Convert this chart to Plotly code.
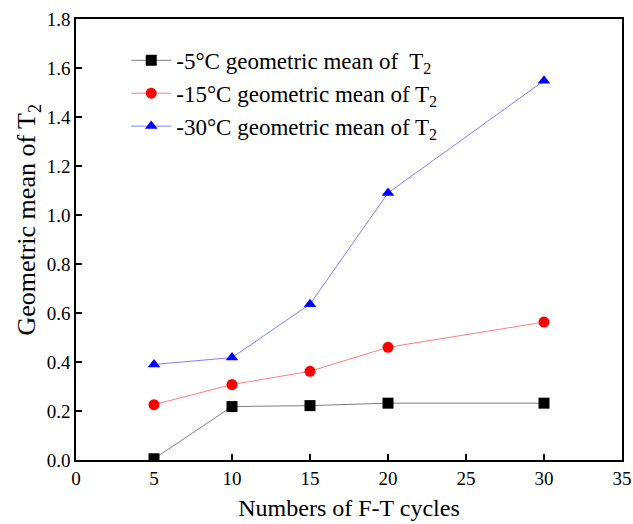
import plotly.graph_objects as go

cycles = [5, 10, 15, 20, 30]
t2_minus5 = [0.005, 0.218, 0.222, 0.232, 0.232]
t2_minus15 = [0.226, 0.308, 0.362, 0.460, 0.563]
t2_minus30 = [0.390, 0.418, 0.636, 1.090, 1.548]

series = [
    ("-5\u00b0C geometric mean of  T<sub>2</sub>", t2_minus5, "#000000", "#808080", "square"),
    ("-15\u00b0C geometric mean of T<sub>2</sub>", t2_minus15, "#ff0000", "#ff8080", "circle"),
    ("-30\u00b0C geometric mean of T<sub>2</sub>", t2_minus30, "#0000ff", "#8080ff", "triangle-up"),
]

fig = go.Figure()
for name, vals, mcol, lcol, sym in series:
    fig.add_trace(go.Scatter(
        x=cycles, y=vals, name=name, mode="lines+markers",
        line=dict(color=lcol, width=1),
        marker=dict(color=mcol, symbol=sym, size=11),
    ))

font_family = "Liberation Serif, Times New Roman, serif"
fig.update_layout(
    width=633, height=524,
    margin=dict(l=76, r=11, t=19, b=64),
    paper_bgcolor="white", plot_bgcolor="white",
    font=dict(family=font_family, size=19, color="black"),
    showlegend=True,
    legend=dict(x=0.092, y=0.955, xanchor="left", yanchor="top",
                bgcolor="rgba(0,0,0,0)", font=dict(size=23), tracegroupgap=0,
                itemwidth=40),
    annotations=[dict(
        text="Geometric mean of T<sub>2</sub>", textangle=-90,
        xref="paper", yref="paper", x=-0.088, y=0.545,
        xanchor="center", yanchor="middle", showarrow=False,
        font=dict(size=26),
    )],
)
fig.update_xaxes(
    range=[0, 35], tickvals=[0, 5, 10, 15, 20, 25, 30, 35],
    ticks="inside", ticklen=6, tickwidth=1.5, tickcolor="black",
    showline=True, linecolor="black", linewidth=1.5, mirror=True,
    showgrid=False, zeroline=False, automargin=False,
    title=dict(text="Numbers of F-T cycles", font=dict(size=24), standoff=12),
)
fig.update_yaxes(
    range=[0, 1.8], tickvals=[0, 0.2, 0.4, 0.6, 0.8, 1.0, 1.2, 1.4, 1.6, 1.8],
    tickformat=".1f", automargin=False,
    ticks="inside", ticklen=6, tickwidth=1.5, tickcolor="black",
    showline=True, linecolor="black", linewidth=1.5, mirror=True,
    showgrid=False, zeroline=False,
)

fig.write_html("out.html")
